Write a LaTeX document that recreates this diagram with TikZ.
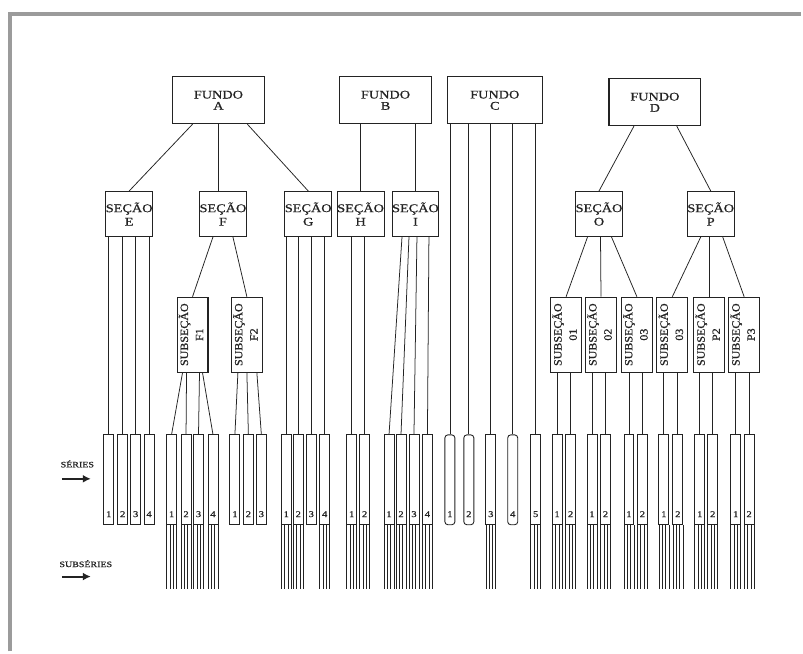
\documentclass[tikz,border=0pt]{standalone}
\usepackage{fontspec}
\setmainfont[FakeStretch=1.22, FakeBold=0.7]{Liberation Serif}
\newfontfamily\estreita[FakeStretch=1.08, FakeBold=0.7]{Liberation Serif}
\usetikzlibrary{arrows, arrows.meta}
\definecolor{traco}{RGB}{35,35,35}
\definecolor{moldura}{RGB}{155,155,155}
% texto vertical das subsecoes
\newcommand{\vertical}[2]{\rotatebox{90}{\estreita\begin{tabular}{@{}c@{}}#1\\#2\end{tabular}}}

\begin{document}
\begin{tikzpicture}[x=0.03cm, y=-0.03cm, >=latex,
		linha/.style={draw=traco, line width=0.65pt},
		fundo/.style={draw=traco, line width=0.9pt, text=traco, align=center, inner sep=0pt,
			minimum width=92*0.03cm, minimum height=47*0.03cm, font=\fontsize{10}{9.6}\selectfont},
		secao/.style={fundo, minimum width=47*0.03cm, minimum height=45*0.03cm, font=\fontsize{10}{11.5}\selectfont},
		subsecao/.style={fundo, minimum width=31*0.03cm, minimum height=75*0.03cm, font=\fontsize{9.5}{13}\selectfont},
		serie/.style={draw=traco, line width=0.75pt, inner sep=0pt, minimum width=10*0.03cm, minimum height=90*0.03cm},
		numero/.style={text=traco, inner sep=0pt, font=\fontsize{7.5}{7.5}\selectfont},
		subserie/.style={draw=traco, line width=0.5pt},
		rotulo/.style={text=traco, inner sep=0pt, font=\fontsize{7}{7}\selectfont},
		seta/.style={-{Latex[length=8*0.03cm, width=8*0.03cm]}, draw=traco, line width=1.7pt}]
	% Hintergrund und Rahmen
	\fill[white] (0,0) rectangle (803,653);
	\draw[moldura, line width=4*0.03cm] (10,653) -- (10,14) -- (803,14);
	% Fundos
	\node[fundo] (A) at (219,100.5) {FUNDO\\A};
	\node[fundo] (B) at (386.5,100.5) {FUNDO\\B};
	\node[fundo, minimum width=95*0.03cm] (C) at (496,100.5) {FUNDO\\C};
	\node[fundo] (D) at (656.5,102.5) {FUNDO\\D};
	% Secoes
	\foreach \n/\x in {E/129.5, F/223.5, G/309, H/361.5, I/416.5, O/600.5, P/712.5}
		\node[secao] (\n) at (\x,214.5) {SEÇÃO\\\n};
	% Subsecoes
	\foreach \n/\x/\t in {F1/193/F1, F2/247.5/F2, O1/567.5/01, O2/602.5/02, O3/638.5/03, P1/674/03, P2/711/P2, P3/746/P3}
		\node[subsecao] (\n) at (\x,335.5) {\vertical{SUBSEÇÃO}{\t}};
	% Series
	\foreach \n/\x/\k in {E-1/109/1, E-2/123/2, E-3/136/3, E-4/149.5/4,
			F1-1/172/1, F1-2/186.5/2, F1-3/199/3, F1-4/213.5/4,
			F2-1/235.5/1, F2-2/249/2, F2-3/262/3,
			G-1/287/1, G-2/299/2, G-3/312/3, G-4/325.5/4,
			H-1/352.5/1, H-2/365.5/2,
			I-1/390/1, I-2/402/2, I-3/415/3, I-4/428.5/4,
			C-3/492/3, C-5/537/5,
			O1-1/558.5/1, O1-2/572/2, O2-1/593.5/1, O2-2/607/2, O3-1/630.5/1, O3-2/644/2,
			P1-1/665.5/1, P1-2/679.5/2, P2-1/701.5/1, P2-2/714.5/2, P3-1/737.5/1, P3-2/751/2}{
		\node[serie] (\n) at (\x,481) {};
		\node[numero] at ([shift={(0,-11)}]\n.south) {\k};
	}
	\foreach \n/\x/\k in {C-1/451/1, C-2/470/2, C-4/514/4}{
		\node[serie, rounded corners=2.5pt] (\n) at (\x,481) {};
		\node[numero] at ([shift={(0,-11)}]\n.south) {\k};
	}
	% Fundo -> Secao
	\draw[linha] ([shift={(-26,0)}]A.south) -- (E.north);
	\draw[linha] (A.south) -- (A.south |- F.north);
	\draw[linha] ([shift={(29,0)}]A.south) -- (G.north);
	\draw[linha] (H.north |- B.south) -- (H.north);
	\draw[linha] (I.north |- B.south) -- (I.north);
	\draw[linha] ([shift={(-21,0)}]D.south) -- (O.north);
	\draw[linha] ([shift={(22,0)}]D.south) -- (P.north);
	% Fundo C direto nas series
	\foreach \s in {1,...,5} \draw[linha] (C-\s.north |- C.south) -- (C-\s.north);
	% Secao -> Series
	\foreach \s in {1,...,4} \draw[linha] (E-\s.north |- E.south) -- (E-\s.north);
	\foreach \s in {1,...,4} \draw[linha] (G-\s.north |- G.south) -- (G-\s.north);
	\foreach \s in {1,2} \draw[linha] (H-\s.north |- H.south) -- (H-\s.north);
	\foreach \d/\s in {-13.5/1, -6.5/2, 1.5/3, 13.5/4} \draw[linha] ([shift={(\d,0)}]I.south) -- (I-\s.north);
	% Secao -> Subsecao
	\draw[linha] ([shift={(-10,0)}]F.south) -- (F1.north);
	\draw[linha] ([shift={(10,0)}]F.south) -- (F2.north);
	\foreach \d/\t in {-11.5/O1, 1.5/O2, 12.5/O3} \draw[linha] ([shift={(\d,0)}]O.south) -- (\t.north);
	\foreach \d/\t in {-10/P1, -1.5/P2, 12/P3} \draw[linha] ([shift={(\d,0)}]P.south) -- (\t.north);
	% Subsecao -> Series
	\foreach \d/\s in {-10/1, -6/2, 7/3, 10/4} \draw[linha] ([shift={(\d,0)}]F1.south) -- (F1-\s.north);
	\foreach \d/\s in {-9/1, 0/2, 10/3} \draw[linha] ([shift={(\d,0)}]F2.south) -- (F2-\s.north);
	\foreach \t in {O1,O2,O3,P1,P2,P3}
		\foreach \s in {1,2} \draw[linha] (\t-\s.north |- \t.south) -- (\t-\s.north);
	% Subseries
	\foreach \n in {F1-1,F1-2,F1-3,F1-4, G-1,G-2,G-4, H-1,H-2, I-1,I-2,I-3,I-4, C-3,C-5,
			O1-1,O1-2,O2-1,O2-2,O3-1,O3-2, P1-1,P1-2,P2-1,P2-2,P3-1,P3-2}
		\foreach \d in {-5,-1.7,1.7,5}
			\draw[subserie] ([shift={(\d,0)}]\n.south) -- ++(0,64);
	% Legenda
	\node[rotulo] (series) at (77.5,465) {SÉRIES};
	\coordinate (seta1) at (62,480);
	\draw[seta] (seta1) -- ++(29,0);
	\node[rotulo] (subseries) at (86,565) {SUBSÉRIES};
	\coordinate (seta2) at (62,578);
	\draw[seta] (seta2) -- ++(29,0);
\end{tikzpicture}
\end{document}
